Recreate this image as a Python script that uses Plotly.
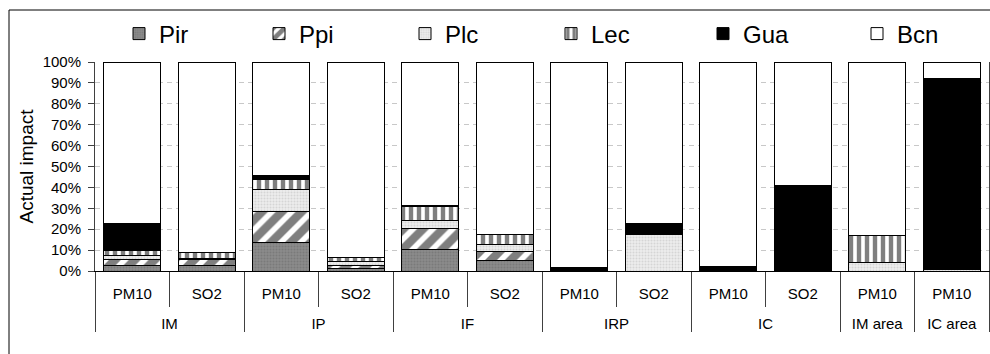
import plotly.graph_objects as go

# ---------------- data ----------------
groups = ["IM", "IM", "IP", "IP", "IF", "IF", "IRP", "IRP", "IC", "IC", "IM area", "IC area"]
pollutants = ["PM10", "SO2", "PM10", "SO2", "PM10", "SO2", "PM10", "SO2", "PM10", "SO2", "PM10", "PM10"]

series_names = ["Pir", "Ppi", "Plc", "Lec", "Gua", "Bcn"]
pir = [2.6, 2.4, 13.7, 1.0, 10.2, 4.8, 0.2, 0.0, 0.0, 0.0, 0.0, 0.0]
ppi = [3.1, 3.2, 14.7, 1.4, 10.2, 4.5, 0.0, 0.0, 0.0, 0.0, 0.0, 0.0]
plc = [1.5, 0.3, 10.7, 2.1, 4.0, 3.6, 0.3, 17.5, 0.0, 0.0, 4.0, 0.5]
lec = [2.7, 3.0, 4.8, 2.2, 6.7, 4.6, 0.0, 0.0, 0.0, 0.0, 13.1, 0.0]
gua = [12.6, 0.0, 1.7, 0.0, 0.3, 0.0, 1.2, 5.0, 2.0, 41.0, 0.0, 91.7]
bcn = [77.5, 91.1, 54.4, 93.3, 68.6, 82.5, 98.3, 77.5, 98.0, 59.0, 82.9, 7.8]

y_ticks = [0, 10, 20, 30, 40, 50, 60, 70, 80, 90, 100]
y_ticklabels = ["0%", "10%", "20%", "30%", "40%", "50%", "60%", "70%", "80%", "90%", "100%"]
y_title = "Actual impact"

# ---------------- styles ----------------
FONT = "Liberation Sans, Arial, sans-serif"
W, H = 990, 354
ML, MR, MT, MB = 95, 1, 62, 83
PW = W - ML - MR
PH = H - MT - MB

styles = [
    dict(color="#858585", pattern=dict(shape=".", fgcolor="#6a6a6a", bgcolor="#8a8a8a", size=3, solidity=0.35)),
    dict(color="white", pattern=dict(shape="/", fgcolor="black", bgcolor="white", size=14, solidity=0.6)),
    dict(color="#e8e8e8", pattern=dict(shape=".", fgcolor="#bdbdbd", bgcolor="#ececec", size=3, solidity=0.35)),
    dict(color="white", pattern=dict(shape="|", fgcolor="black", bgcolor="white", size=8, solidity=0.55)),
    dict(color="black"),
    dict(color="white"),
]

legend_text_px = [157, 297, 443, 589, 741, 895]  # layout positions of legend entries (px)
legend_keys = ["legend", "legend2", "legend3", "legend4", "legend5", "legend6"]

values = [pir, ppi, plc, lec, gua, bcn]

fig = go.Figure()
# second label row is pushed one line lower to leave room for the inner tick marks
x = [["<br>" + g for g in groups], pollutants]
for name, vals, st, lk in zip(series_names, values, styles, legend_keys):
    fig.add_trace(go.Bar(
        x=x, y=vals, name=name, legend=lk,
        marker=dict(color=st["color"], pattern=st.get("pattern"),
                    line=dict(color="black", width=1)),
        hoverinfo="skip",
    ))

layout_legends = {}
for lk, tx in zip(legend_keys, legend_text_px):
    layout_legends[lk] = dict(
        orientation="h", x=(tx - 38 - ML) / PW, xanchor="left",
        y=(H - MB - 34) / PH, yanchor="middle",
        font=dict(family=FONT, size=24, color="black"),
        bgcolor="rgba(0,0,0,0)", borderwidth=0,
    )

fig.update_layout(
    width=W, height=H,
    margin=dict(l=ML, r=MR, t=MT, b=MB, pad=0),
    paper_bgcolor="white", plot_bgcolor="white",
    barmode="stack", barnorm="percent", bargap=0.24,
    showlegend=True,
    font=dict(family=FONT, size=15, color="black"),
    **layout_legends,
)

fig.update_yaxes(
    range=[0, 100], tickmode="array", tickvals=y_ticks, ticktext=y_ticklabels,
    showline=True, linecolor="#404040", linewidth=1, mirror=True,
    ticks="outside", ticklen=6, tickcolor="#404040",
    ticklabelstandoff=4,
    showgrid=True, gridcolor="#c8c8c8", griddash="5px,4px", gridwidth=1,
    zeroline=False,
    tickfont=dict(family=FONT, size=15, color="black"),
    title=dict(text=y_title, standoff=3, font=dict(family=FONT, size=19, color="black")),
    automargin=False,
)

fig.update_xaxes(
    type="multicategory",
    showline=True, linecolor="black", linewidth=1,
    ticks="outside", ticklen=35, tickcolor="#404040", tickwidth=1,
    ticklabelstandoff=9,
    showdividers=True, dividercolor="#404040", dividerwidth=1,
    tickfont=dict(family=FONT, size=15, color="black"),
    automargin=False,
)

# outer chart-area frame
fig.add_shape(type="rect", xref="paper", yref="paper",
              x0=(9 - ML) / PW, x1=(W + 10 - ML) / PW,
              y0=(H - MB - (H + 10)) / PH, y1=(H - MB - 10) / PH,
              line=dict(color="black", width=1), fillcolor="rgba(0,0,0,0)", layer="below")

fig.write_html("out.html")
